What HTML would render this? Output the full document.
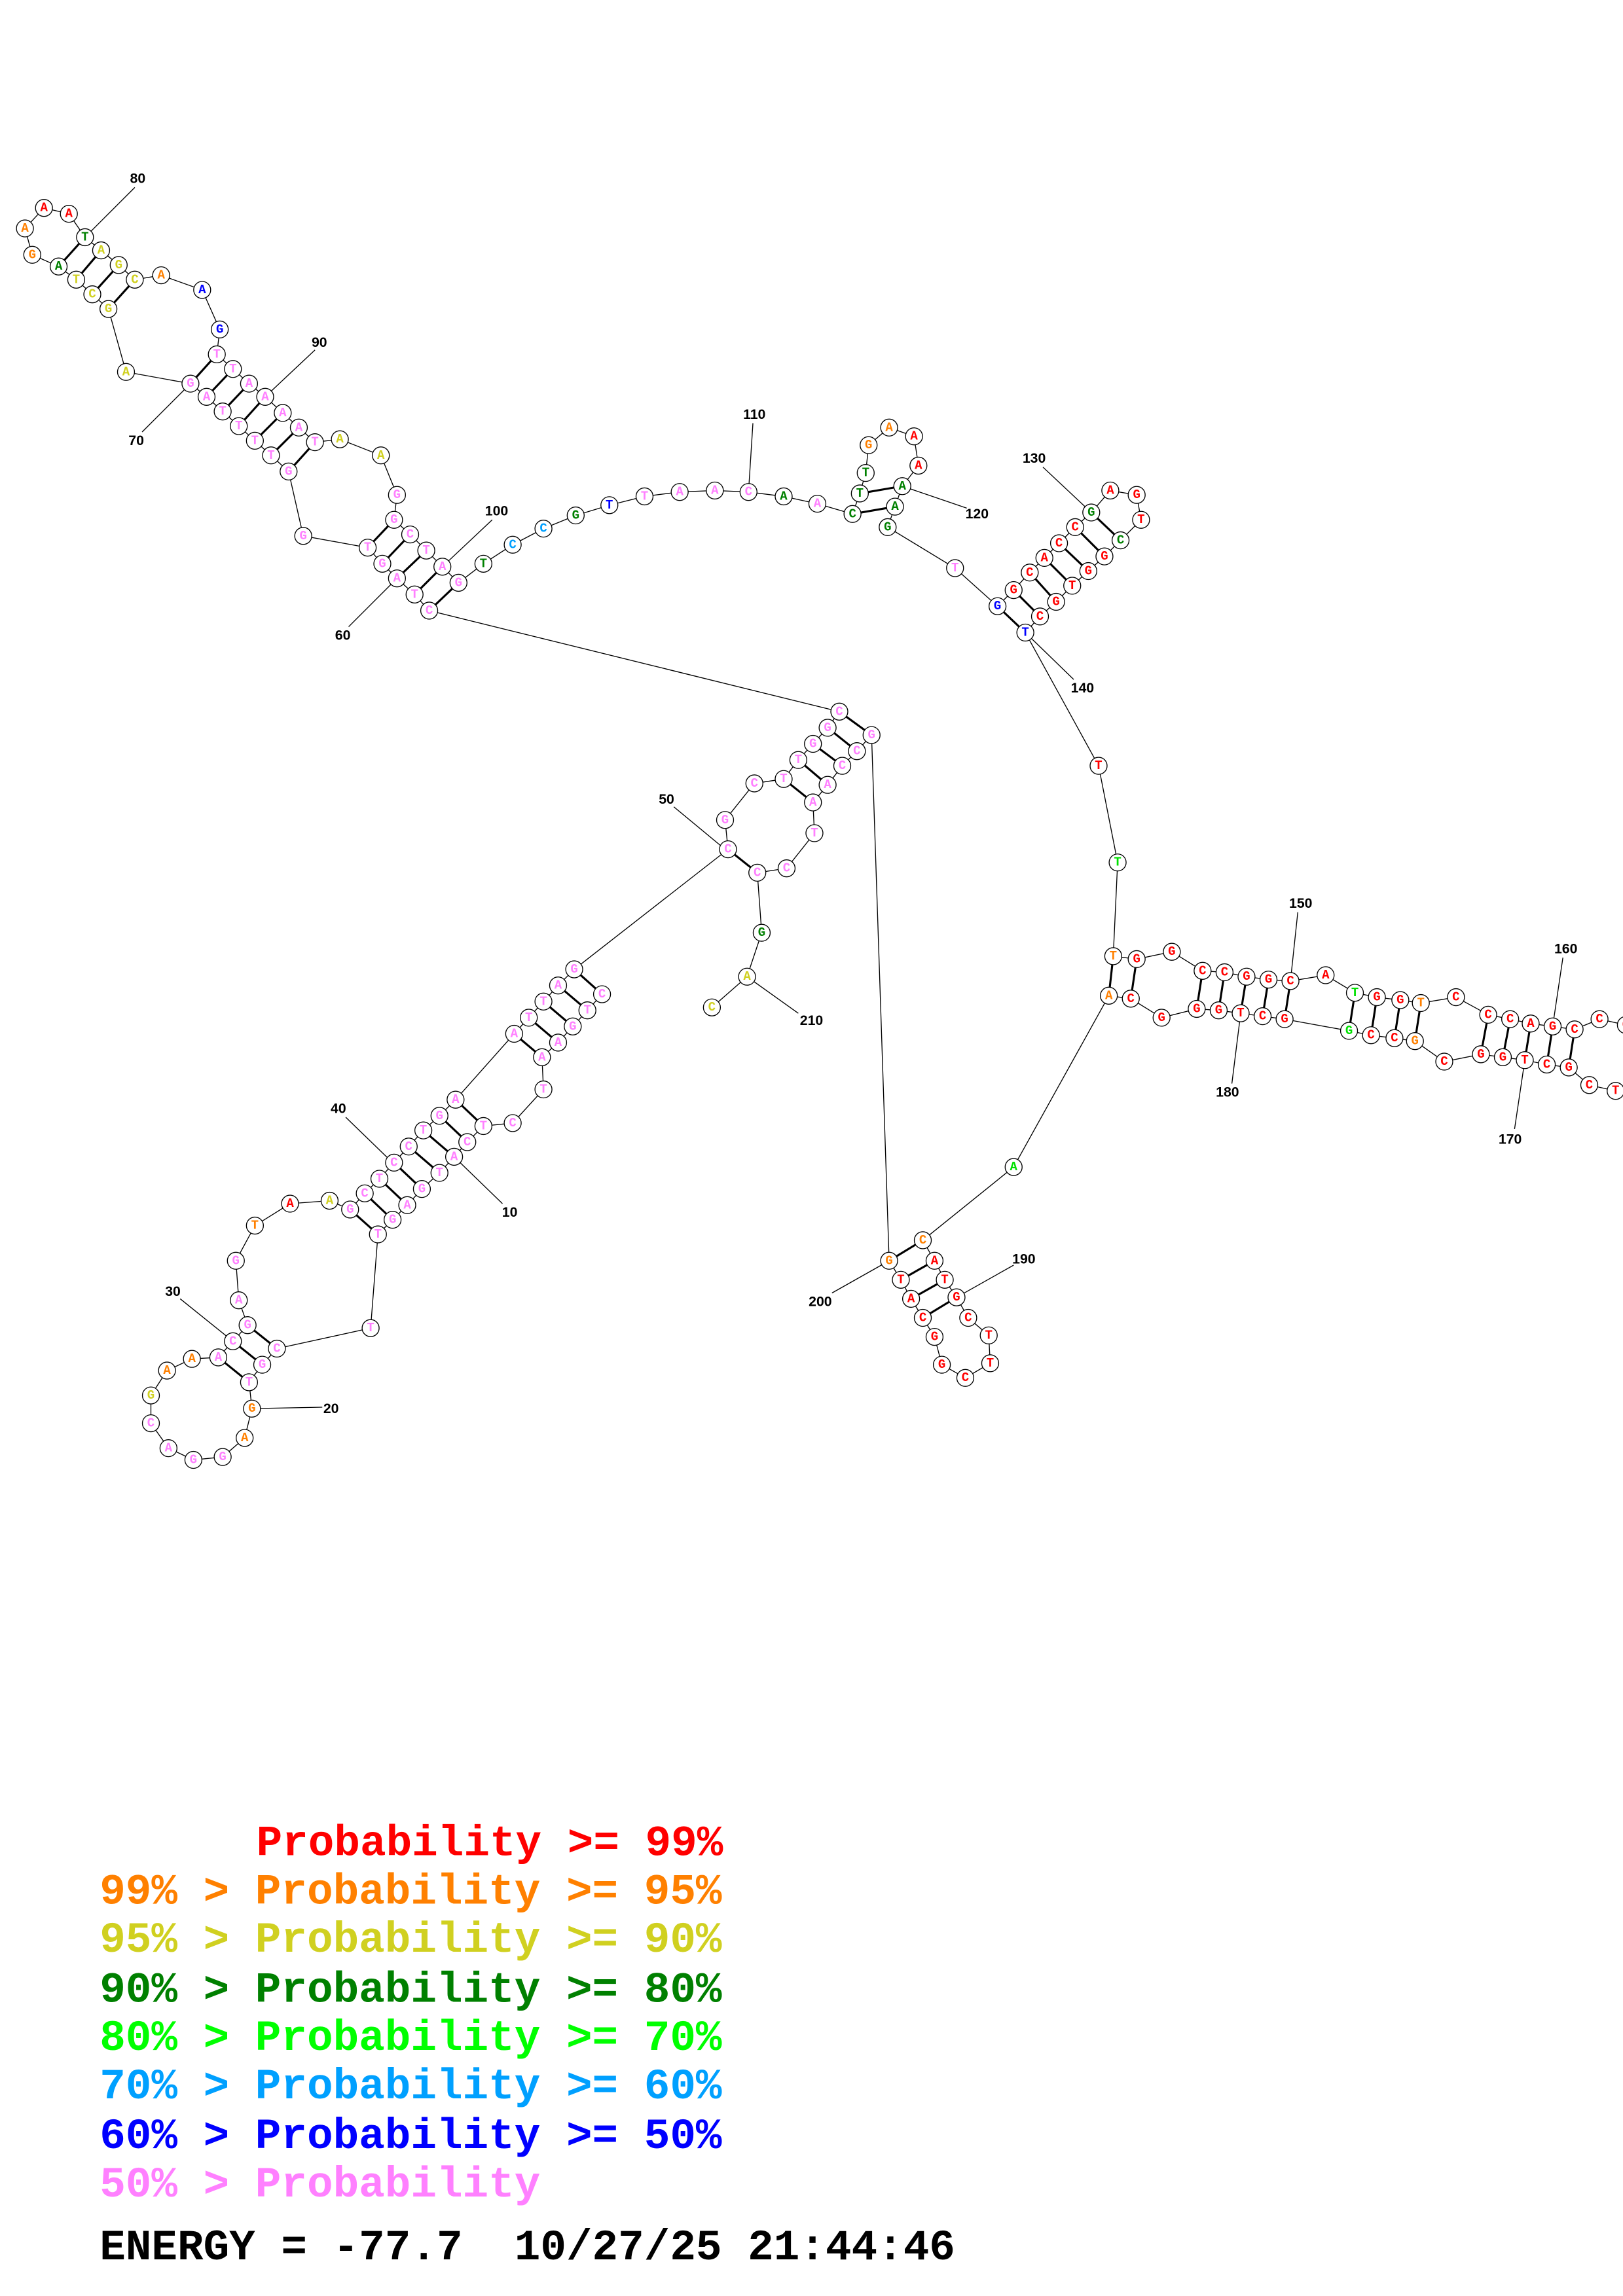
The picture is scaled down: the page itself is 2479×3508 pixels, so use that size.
<!DOCTYPE html>
<html><head><meta charset="utf-8"><style>
html,body{margin:0;padding:0;background:#fff}
svg{display:block}
.n circle{fill:#fff;stroke:#000;stroke-width:0.6}
.n text{font-family:"Liberation Mono",monospace;font-weight:bold;font-size:8.5px;text-anchor:middle;dominant-baseline:central}
.r{fill:#ff0000}.o{fill:#ff8000}.y{fill:#d0d020}.g{fill:#008000}.l{fill:#00e000}.c{fill:#00a0ff}.b{fill:#0000ff}.p{fill:#ff80ff}
.bb{fill:none;stroke:#000;stroke-width:0.6}
.pr{stroke:#000;stroke-width:1.4}
.lb{font-family:"Liberation Sans",sans-serif;font-weight:bold;font-size:9.5px;fill:#000;text-anchor:middle}
.lg{font-family:"Liberation Mono",monospace;font-weight:bold;font-size:29.5px}
</style></head><body>
<svg width="2479" height="3508" viewBox="0 0 1108 1568" xmlns="http://www.w3.org/2000/svg">
<g class="bb">
<polyline points="58,162 47,146 30,142 17,156 22,174 40,182 52,191 63,201 74,211 86,254 130,262 141,271 152,281 163,291 174,301 185,311 197,322 207,366 251,374 261,385 271,395 283,406 293,417 573,486"/>
<polyline points="58,162 69,171 81,181 92,191 110,188 138,198 150,225 148,242 159,252 170,262 181,271 193,282 204,292 215,302 232,300 260,311 271,338 269,355 280,365 291,376 302,387 313,398 330,385 350,372 371,361 393,352 416,345 440,339 464,336 488,335 511,336 535,339 558,344 582,351 587,337 591,323 593,304 607,292 624,298 627,318 616,332 611,346 606,360 652,388 681,414 692,403 703,391 713,381 723,371 734,360 745,350 758,335 776,338 779,355 765,369 754,380 743,390 732,400 721,411 710,421 700,432 750,523 763,589 760,653 776,655 800,650 821,663 836,664 851,667 866,669 881,670 905,666 925,678 940,681 956,683 970,685 994,681 1016,693 1031,696 1045,699 1060,701 1075,703 1092,696 1110,700"/>
<polyline points="1110,745 1103,745 1085,741 1071,729 1056,727 1041,724 1026,722 1011,720 986,725 966,711 952,709 936,707 921,704 877,696 862,694 847,692 832,690 817,689 793,695 772,682 757,680 692,797 630,847 638,861 645,874 653,886 661,900 675,912 676,931 659,941 643,932 638,913 630,900 622,887 615,874 607,861 595,502"/>
<polyline points="573,486 565,497 555,508 545,519 535,532 515,535 495,560 497,580 392,662"/>
<polyline points="595,502 585,513 575,523 565,536 555,548 556,569 537,593 517,596 497,580"/>
<polyline points="517,596 520,637 510,667 486,688"/>
<polyline points="392,662 381,673 371,684 361,695 351,706 311,751 300,762 289,772 279,783 269,794 259,805 249,815 239,826 225,820 198,822 174,837 161,861 163,888 169,905 159,916 149,927 131,928 114,936 103,953 103,972 115,989 132,997 152,995 167,982 172,962 170,944 179,932 189,921 253,907 258,843 268,833 278,823 288,812 300,801 310,790 319,780 330,769 350,767 371,744 370,722 381,712 391,701 401,690 411,679 392,662"/>
</g>
<g class="bb">
<line x1="58" y1="162" x2="92" y2="128"/><line x1="181" y1="271" x2="215" y2="239"/>
<line x1="130" y1="262" x2="97" y2="295"/><line x1="271" y1="395" x2="238" y2="428"/>
<line x1="302" y1="387" x2="336" y2="355"/><line x1="511" y1="336" x2="514" y2="289"/>
<line x1="616" y1="332" x2="660" y2="347"/><line x1="745" y1="350" x2="712" y2="319"/>
<line x1="700" y1="432" x2="733" y2="464"/><line x1="881" y1="670" x2="886" y2="623"/>
<line x1="1060" y1="701" x2="1067" y2="654"/><line x1="1041" y1="724" x2="1034" y2="771"/>
<line x1="847" y1="692" x2="841" y2="740"/><line x1="653" y1="886" x2="692" y2="864"/>
<line x1="607" y1="861" x2="568" y2="883"/><line x1="510" y1="667" x2="545" y2="692"/>
<line x1="495" y1="580" x2="460" y2="551"/><line x1="268" y1="794" x2="236" y2="763"/>
<line x1="310" y1="790" x2="343" y2="822"/><line x1="159" y1="916" x2="123" y2="887"/>
<line x1="172" y1="962" x2="220" y2="961"/>
</g>
<g class="pr">
<line x1="58" y1="162" x2="40" y2="182"/><line x1="69" y1="171" x2="52" y2="191"/><line x1="81" y1="181" x2="63" y2="201"/><line x1="92" y1="191" x2="74" y2="211"/>
<line x1="148" y1="242" x2="130" y2="262"/><line x1="159" y1="252" x2="141" y2="271"/><line x1="170" y1="262" x2="152" y2="281"/><line x1="181" y1="271" x2="163" y2="291"/><line x1="193" y1="282" x2="174" y2="301"/><line x1="204" y1="292" x2="185" y2="311"/><line x1="215" y1="302" x2="197" y2="322"/>
<line x1="269" y1="355" x2="251" y2="374"/><line x1="280" y1="365" x2="261" y2="385"/><line x1="291" y1="376" x2="271" y2="395"/><line x1="302" y1="387" x2="283" y2="406"/><line x1="313" y1="398" x2="293" y2="417"/>
<line x1="587" y1="337" x2="616" y2="332"/><line x1="582" y1="351" x2="611" y2="346"/>
<line x1="692" y1="403" x2="710" y2="421"/><line x1="703" y1="391" x2="721" y2="411"/><line x1="713" y1="381" x2="732" y2="400"/><line x1="723" y1="371" x2="743" y2="390"/><line x1="734" y1="360" x2="754" y2="380"/><line x1="745" y1="350" x2="765" y2="369"/><line x1="681" y1="414" x2="700" y2="432"/>
<line x1="760" y1="653" x2="757" y2="680"/><line x1="776" y1="655" x2="772" y2="682"/><line x1="821" y1="663" x2="817" y2="689"/><line x1="836" y1="664" x2="832" y2="690"/><line x1="851" y1="667" x2="847" y2="692"/><line x1="866" y1="669" x2="862" y2="694"/><line x1="881" y1="670" x2="877" y2="696"/>
<line x1="925" y1="678" x2="921" y2="704"/><line x1="940" y1="681" x2="936" y2="707"/><line x1="956" y1="683" x2="952" y2="709"/><line x1="970" y1="685" x2="966" y2="711"/>
<line x1="1016" y1="693" x2="1011" y2="720"/><line x1="1031" y1="696" x2="1026" y2="722"/><line x1="1045" y1="699" x2="1041" y2="724"/><line x1="1060" y1="701" x2="1056" y2="727"/><line x1="1075" y1="703" x2="1071" y2="729"/>
<line x1="630" y1="847" x2="607" y2="861"/><line x1="638" y1="861" x2="615" y2="874"/><line x1="645" y1="874" x2="622" y2="887"/><line x1="653" y1="886" x2="630" y2="900"/>
<line x1="573" y1="486" x2="595" y2="502"/><line x1="565" y1="497" x2="585" y2="513"/><line x1="555" y1="508" x2="575" y2="523"/><line x1="545" y1="519" x2="565" y2="536"/><line x1="535" y1="532" x2="555" y2="548"/><line x1="497" y1="580" x2="517" y2="596"/>
<line x1="392" y1="662" x2="411" y2="679"/><line x1="381" y1="673" x2="401" y2="690"/><line x1="371" y1="684" x2="391" y2="701"/><line x1="361" y1="695" x2="381" y2="712"/><line x1="351" y1="706" x2="370" y2="722"/>
<line x1="311" y1="751" x2="330" y2="769"/><line x1="300" y1="762" x2="319" y2="780"/><line x1="289" y1="772" x2="310" y2="790"/><line x1="279" y1="783" x2="300" y2="801"/><line x1="269" y1="794" x2="288" y2="812"/><line x1="259" y1="805" x2="278" y2="823"/><line x1="249" y1="815" x2="268" y2="833"/><line x1="239" y1="826" x2="258" y2="843"/>
<line x1="169" y1="905" x2="189" y2="921"/><line x1="159" y1="916" x2="179" y2="932"/><line x1="149" y1="927" x2="170" y2="944"/>
</g>
<g class="n">
<g transform="translate(17,156)"><circle r="5.8"/><text class="o">A</text></g>
<g transform="translate(30,142)"><circle r="5.8"/><text class="r">A</text></g>
<g transform="translate(47,146)"><circle r="5.8"/><text class="r">A</text></g>
<g transform="translate(58,162)"><circle r="5.8"/><text class="g">T</text></g>
<g transform="translate(22,174)"><circle r="5.8"/><text class="o">G</text></g>
<g transform="translate(40,182)"><circle r="5.8"/><text class="g">A</text></g>
<g transform="translate(52,191)"><circle r="5.8"/><text class="y">T</text></g>
<g transform="translate(63,201)"><circle r="5.8"/><text class="y">C</text></g>
<g transform="translate(74,211)"><circle r="5.8"/><text class="y">G</text></g>
<g transform="translate(69,171)"><circle r="5.8"/><text class="y">A</text></g>
<g transform="translate(81,181)"><circle r="5.8"/><text class="y">G</text></g>
<g transform="translate(92,191)"><circle r="5.8"/><text class="y">C</text></g>
<g transform="translate(110,188)"><circle r="5.8"/><text class="o">A</text></g>
<g transform="translate(138,198)"><circle r="5.8"/><text class="b">A</text></g>
<g transform="translate(150,225)"><circle r="5.8"/><text class="b">G</text></g>
<g transform="translate(86,254)"><circle r="5.8"/><text class="y">A</text></g>
<g transform="translate(148,242)"><circle r="5.8"/><text class="p">T</text></g>
<g transform="translate(159,252)"><circle r="5.8"/><text class="p">T</text></g>
<g transform="translate(170,262)"><circle r="5.8"/><text class="p">A</text></g>
<g transform="translate(181,271)"><circle r="5.8"/><text class="p">A</text></g>
<g transform="translate(193,282)"><circle r="5.8"/><text class="p">A</text></g>
<g transform="translate(204,292)"><circle r="5.8"/><text class="p">A</text></g>
<g transform="translate(215,302)"><circle r="5.8"/><text class="p">T</text></g>
<g transform="translate(130,262)"><circle r="5.8"/><text class="p">G</text></g>
<g transform="translate(141,271)"><circle r="5.8"/><text class="p">A</text></g>
<g transform="translate(152,281)"><circle r="5.8"/><text class="p">T</text></g>
<g transform="translate(163,291)"><circle r="5.8"/><text class="p">T</text></g>
<g transform="translate(174,301)"><circle r="5.8"/><text class="p">T</text></g>
<g transform="translate(185,311)"><circle r="5.8"/><text class="p">T</text></g>
<g transform="translate(197,322)"><circle r="5.8"/><text class="p">G</text></g>
<g transform="translate(232,300)"><circle r="5.8"/><text class="y">A</text></g>
<g transform="translate(260,311)"><circle r="5.8"/><text class="y">A</text></g>
<g transform="translate(271,338)"><circle r="5.8"/><text class="p">G</text></g>
<g transform="translate(269,355)"><circle r="5.8"/><text class="p">G</text></g>
<g transform="translate(280,365)"><circle r="5.8"/><text class="p">C</text></g>
<g transform="translate(291,376)"><circle r="5.8"/><text class="p">T</text></g>
<g transform="translate(302,387)"><circle r="5.8"/><text class="p">A</text></g>
<g transform="translate(313,398)"><circle r="5.8"/><text class="p">G</text></g>
<g transform="translate(207,366)"><circle r="5.8"/><text class="p">G</text></g>
<g transform="translate(251,374)"><circle r="5.8"/><text class="p">T</text></g>
<g transform="translate(261,385)"><circle r="5.8"/><text class="p">G</text></g>
<g transform="translate(271,395)"><circle r="5.8"/><text class="p">A</text></g>
<g transform="translate(283,406)"><circle r="5.8"/><text class="p">T</text></g>
<g transform="translate(293,417)"><circle r="5.8"/><text class="p">C</text></g>
<g transform="translate(330,385)"><circle r="5.8"/><text class="g">T</text></g>
<g transform="translate(350,372)"><circle r="5.8"/><text class="c">C</text></g>
<g transform="translate(371,361)"><circle r="5.8"/><text class="c">C</text></g>
<g transform="translate(393,352)"><circle r="5.8"/><text class="g">G</text></g>
<g transform="translate(416,345)"><circle r="5.8"/><text class="b">T</text></g>
<g transform="translate(440,339)"><circle r="5.8"/><text class="p">T</text></g>
<g transform="translate(464,336)"><circle r="5.8"/><text class="p">A</text></g>
<g transform="translate(488,335)"><circle r="5.8"/><text class="p">A</text></g>
<g transform="translate(511,336)"><circle r="5.8"/><text class="p">C</text></g>
<g transform="translate(535,339)"><circle r="5.8"/><text class="g">A</text></g>
<g transform="translate(558,344)"><circle r="5.8"/><text class="p">A</text></g>
<g transform="translate(582,351)"><circle r="5.8"/><text class="g">C</text></g>
<g transform="translate(587,337)"><circle r="5.8"/><text class="g">T</text></g>
<g transform="translate(591,323)"><circle r="5.8"/><text class="g">T</text></g>
<g transform="translate(593,304)"><circle r="5.8"/><text class="o">G</text></g>
<g transform="translate(607,292)"><circle r="5.8"/><text class="o">A</text></g>
<g transform="translate(624,298)"><circle r="5.8"/><text class="r">A</text></g>
<g transform="translate(627,318)"><circle r="5.8"/><text class="r">A</text></g>
<g transform="translate(616,332)"><circle r="5.8"/><text class="g">A</text></g>
<g transform="translate(611,346)"><circle r="5.8"/><text class="g">A</text></g>
<g transform="translate(606,360)"><circle r="5.8"/><text class="g">G</text></g>
<g transform="translate(652,388)"><circle r="5.8"/><text class="p">T</text></g>
<g transform="translate(681,414)"><circle r="5.8"/><text class="b">G</text></g>
<g transform="translate(700,432)"><circle r="5.8"/><text class="b">T</text></g>
<g transform="translate(692,403)"><circle r="5.8"/><text class="r">G</text></g>
<g transform="translate(703,391)"><circle r="5.8"/><text class="r">C</text></g>
<g transform="translate(713,381)"><circle r="5.8"/><text class="r">A</text></g>
<g transform="translate(723,371)"><circle r="5.8"/><text class="r">C</text></g>
<g transform="translate(734,360)"><circle r="5.8"/><text class="r">C</text></g>
<g transform="translate(745,350)"><circle r="5.8"/><text class="g">G</text></g>
<g transform="translate(758,335)"><circle r="5.8"/><text class="r">A</text></g>
<g transform="translate(776,338)"><circle r="5.8"/><text class="r">G</text></g>
<g transform="translate(779,355)"><circle r="5.8"/><text class="r">T</text></g>
<g transform="translate(765,369)"><circle r="5.8"/><text class="g">C</text></g>
<g transform="translate(754,380)"><circle r="5.8"/><text class="r">G</text></g>
<g transform="translate(743,390)"><circle r="5.8"/><text class="r">G</text></g>
<g transform="translate(732,400)"><circle r="5.8"/><text class="r">T</text></g>
<g transform="translate(721,411)"><circle r="5.8"/><text class="r">G</text></g>
<g transform="translate(710,421)"><circle r="5.8"/><text class="r">C</text></g>
<g transform="translate(750,523)"><circle r="5.8"/><text class="r">T</text></g>
<g transform="translate(763,589)"><circle r="5.8"/><text class="l">T</text></g>
<g transform="translate(760,653)"><circle r="5.8"/><text class="o">T</text></g>
<g transform="translate(757,680)"><circle r="5.8"/><text class="o">A</text></g>
<g transform="translate(776,655)"><circle r="5.8"/><text class="r">G</text></g>
<g transform="translate(772,682)"><circle r="5.8"/><text class="r">C</text></g>
<g transform="translate(800,650)"><circle r="5.8"/><text class="r">G</text></g>
<g transform="translate(793,695)"><circle r="5.8"/><text class="r">G</text></g>
<g transform="translate(821,663)"><circle r="5.8"/><text class="r">C</text></g>
<g transform="translate(817,689)"><circle r="5.8"/><text class="r">G</text></g>
<g transform="translate(836,664)"><circle r="5.8"/><text class="r">C</text></g>
<g transform="translate(832,690)"><circle r="5.8"/><text class="r">G</text></g>
<g transform="translate(851,667)"><circle r="5.8"/><text class="r">G</text></g>
<g transform="translate(847,692)"><circle r="5.8"/><text class="r">T</text></g>
<g transform="translate(866,669)"><circle r="5.8"/><text class="r">G</text></g>
<g transform="translate(862,694)"><circle r="5.8"/><text class="r">C</text></g>
<g transform="translate(881,670)"><circle r="5.8"/><text class="r">C</text></g>
<g transform="translate(877,696)"><circle r="5.8"/><text class="r">G</text></g>
<g transform="translate(905,666)"><circle r="5.8"/><text class="r">A</text></g>
<g transform="translate(925,678)"><circle r="5.8"/><text class="l">T</text></g>
<g transform="translate(921,704)"><circle r="5.8"/><text class="l">G</text></g>
<g transform="translate(940,681)"><circle r="5.8"/><text class="r">G</text></g>
<g transform="translate(936,707)"><circle r="5.8"/><text class="r">C</text></g>
<g transform="translate(956,683)"><circle r="5.8"/><text class="r">G</text></g>
<g transform="translate(952,709)"><circle r="5.8"/><text class="r">C</text></g>
<g transform="translate(970,685)"><circle r="5.8"/><text class="o">T</text></g>
<g transform="translate(966,711)"><circle r="5.8"/><text class="o">G</text></g>
<g transform="translate(994,681)"><circle r="5.8"/><text class="r">C</text></g>
<g transform="translate(986,725)"><circle r="5.8"/><text class="r">C</text></g>
<g transform="translate(1016,693)"><circle r="5.8"/><text class="r">C</text></g>
<g transform="translate(1011,720)"><circle r="5.8"/><text class="r">G</text></g>
<g transform="translate(1031,696)"><circle r="5.8"/><text class="r">C</text></g>
<g transform="translate(1026,722)"><circle r="5.8"/><text class="r">G</text></g>
<g transform="translate(1045,699)"><circle r="5.8"/><text class="r">A</text></g>
<g transform="translate(1041,724)"><circle r="5.8"/><text class="r">T</text></g>
<g transform="translate(1060,701)"><circle r="5.8"/><text class="r">G</text></g>
<g transform="translate(1056,727)"><circle r="5.8"/><text class="r">C</text></g>
<g transform="translate(1075,703)"><circle r="5.8"/><text class="r">C</text></g>
<g transform="translate(1071,729)"><circle r="5.8"/><text class="r">G</text></g>
<g transform="translate(1092,696)"><circle r="5.8"/><text class="r">C</text></g>
<g transform="translate(1085,741)"><circle r="5.8"/><text class="r">C</text></g>
<g transform="translate(1103,745)"><circle r="5.8"/><text class="r">T</text></g>
<g transform="translate(1110,700)"><circle r="5.8"/><text class="r">C</text></g>
<g transform="translate(692,797)"><circle r="5.8"/><text class="l">A</text></g>
<g transform="translate(630,847)"><circle r="5.8"/><text class="o">C</text></g>
<g transform="translate(607,861)"><circle r="5.8"/><text class="o">G</text></g>
<g transform="translate(638,861)"><circle r="5.8"/><text class="r">A</text></g>
<g transform="translate(615,874)"><circle r="5.8"/><text class="r">T</text></g>
<g transform="translate(645,874)"><circle r="5.8"/><text class="r">T</text></g>
<g transform="translate(622,887)"><circle r="5.8"/><text class="r">A</text></g>
<g transform="translate(653,886)"><circle r="5.8"/><text class="r">G</text></g>
<g transform="translate(630,900)"><circle r="5.8"/><text class="r">C</text></g>
<g transform="translate(661,900)"><circle r="5.8"/><text class="r">C</text></g>
<g transform="translate(638,913)"><circle r="5.8"/><text class="r">G</text></g>
<g transform="translate(675,912)"><circle r="5.8"/><text class="r">T</text></g>
<g transform="translate(676,931)"><circle r="5.8"/><text class="r">T</text></g>
<g transform="translate(659,941)"><circle r="5.8"/><text class="r">C</text></g>
<g transform="translate(643,932)"><circle r="5.8"/><text class="r">G</text></g>
<g transform="translate(573,486)"><circle r="5.8"/><text class="p">C</text></g>
<g transform="translate(595,502)"><circle r="5.8"/><text class="p">G</text></g>
<g transform="translate(565,497)"><circle r="5.8"/><text class="p">G</text></g>
<g transform="translate(585,513)"><circle r="5.8"/><text class="p">C</text></g>
<g transform="translate(555,508)"><circle r="5.8"/><text class="p">G</text></g>
<g transform="translate(575,523)"><circle r="5.8"/><text class="p">C</text></g>
<g transform="translate(545,519)"><circle r="5.8"/><text class="p">T</text></g>
<g transform="translate(565,536)"><circle r="5.8"/><text class="p">A</text></g>
<g transform="translate(535,532)"><circle r="5.8"/><text class="p">T</text></g>
<g transform="translate(555,548)"><circle r="5.8"/><text class="p">A</text></g>
<g transform="translate(515,535)"><circle r="5.8"/><text class="p">C</text></g>
<g transform="translate(556,569)"><circle r="5.8"/><text class="p">T</text></g>
<g transform="translate(537,593)"><circle r="5.8"/><text class="p">C</text></g>
<g transform="translate(517,596)"><circle r="5.8"/><text class="p">C</text></g>
<g transform="translate(495,560)"><circle r="5.8"/><text class="p">G</text></g>
<g transform="translate(497,580)"><circle r="5.8"/><text class="p">C</text></g>
<g transform="translate(520,637)"><circle r="5.8"/><text class="g">G</text></g>
<g transform="translate(510,667)"><circle r="5.8"/><text class="y">A</text></g>
<g transform="translate(486,688)"><circle r="5.8"/><text class="y">C</text></g>
<g transform="translate(392,662)"><circle r="5.8"/><text class="p">G</text></g>
<g transform="translate(411,679)"><circle r="5.8"/><text class="p">C</text></g>
<g transform="translate(381,673)"><circle r="5.8"/><text class="p">A</text></g>
<g transform="translate(401,690)"><circle r="5.8"/><text class="p">T</text></g>
<g transform="translate(371,684)"><circle r="5.8"/><text class="p">T</text></g>
<g transform="translate(391,701)"><circle r="5.8"/><text class="p">G</text></g>
<g transform="translate(361,695)"><circle r="5.8"/><text class="p">T</text></g>
<g transform="translate(381,712)"><circle r="5.8"/><text class="p">A</text></g>
<g transform="translate(351,706)"><circle r="5.8"/><text class="p">A</text></g>
<g transform="translate(370,722)"><circle r="5.8"/><text class="p">A</text></g>
<g transform="translate(371,744)"><circle r="5.8"/><text class="p">T</text></g>
<g transform="translate(350,767)"><circle r="5.8"/><text class="p">C</text></g>
<g transform="translate(311,751)"><circle r="5.8"/><text class="p">A</text></g>
<g transform="translate(330,769)"><circle r="5.8"/><text class="p">T</text></g>
<g transform="translate(300,762)"><circle r="5.8"/><text class="p">G</text></g>
<g transform="translate(319,780)"><circle r="5.8"/><text class="p">C</text></g>
<g transform="translate(289,772)"><circle r="5.8"/><text class="p">T</text></g>
<g transform="translate(310,790)"><circle r="5.8"/><text class="p">A</text></g>
<g transform="translate(279,783)"><circle r="5.8"/><text class="p">C</text></g>
<g transform="translate(300,801)"><circle r="5.8"/><text class="p">T</text></g>
<g transform="translate(269,794)"><circle r="5.8"/><text class="p">C</text></g>
<g transform="translate(288,812)"><circle r="5.8"/><text class="p">G</text></g>
<g transform="translate(259,805)"><circle r="5.8"/><text class="p">T</text></g>
<g transform="translate(278,823)"><circle r="5.8"/><text class="p">A</text></g>
<g transform="translate(249,815)"><circle r="5.8"/><text class="p">C</text></g>
<g transform="translate(268,833)"><circle r="5.8"/><text class="p">G</text></g>
<g transform="translate(239,826)"><circle r="5.8"/><text class="p">G</text></g>
<g transform="translate(258,843)"><circle r="5.8"/><text class="p">T</text></g>
<g transform="translate(225,820)"><circle r="5.8"/><text class="y">A</text></g>
<g transform="translate(198,822)"><circle r="5.8"/><text class="r">A</text></g>
<g transform="translate(174,837)"><circle r="5.8"/><text class="o">T</text></g>
<g transform="translate(161,861)"><circle r="5.8"/><text class="p">G</text></g>
<g transform="translate(163,888)"><circle r="5.8"/><text class="p">A</text></g>
<g transform="translate(169,905)"><circle r="5.8"/><text class="p">G</text></g>
<g transform="translate(159,916)"><circle r="5.8"/><text class="p">C</text></g>
<g transform="translate(149,927)"><circle r="5.8"/><text class="p">A</text></g>
<g transform="translate(189,921)"><circle r="5.8"/><text class="p">C</text></g>
<g transform="translate(179,932)"><circle r="5.8"/><text class="p">G</text></g>
<g transform="translate(170,944)"><circle r="5.8"/><text class="p">T</text></g>
<g transform="translate(172,962)"><circle r="5.8"/><text class="o">G</text></g>
<g transform="translate(167,982)"><circle r="5.8"/><text class="o">A</text></g>
<g transform="translate(152,995)"><circle r="5.8"/><text class="p">G</text></g>
<g transform="translate(132,997)"><circle r="5.8"/><text class="p">G</text></g>
<g transform="translate(115,989)"><circle r="5.8"/><text class="p">A</text></g>
<g transform="translate(103,972)"><circle r="5.8"/><text class="p">C</text></g>
<g transform="translate(103,953)"><circle r="5.8"/><text class="y">G</text></g>
<g transform="translate(114,936)"><circle r="5.8"/><text class="o">A</text></g>
<g transform="translate(131,928)"><circle r="5.8"/><text class="o">A</text></g>
<g transform="translate(253,907)"><circle r="5.8"/><text class="p">T</text></g>
</g>
<text class="lb" x="94" y="125">80</text><text class="lb" x="218" y="237">90</text>
<text class="lb" x="93" y="304">70</text><text class="lb" x="234" y="437">60</text>
<text class="lb" x="339" y="352">100</text><text class="lb" x="515" y="286">110</text>
<text class="lb" x="667" y="354">120</text><text class="lb" x="706" y="316">130</text>
<text class="lb" x="739" y="473">140</text><text class="lb" x="888" y="620">150</text>
<text class="lb" x="1069" y="651">160</text><text class="lb" x="1031" y="781">170</text>
<text class="lb" x="838" y="749">180</text><text class="lb" x="699" y="863">190</text>
<text class="lb" x="560" y="892">200</text><text class="lb" x="554" y="700">210</text>
<text class="lb" x="455" y="549">50</text><text class="lb" x="231" y="760">40</text>
<text class="lb" x="348" y="831">10</text><text class="lb" x="118" y="885">30</text>
<text class="lb" x="226" y="965">20</text>
<g class="lg">
<text x="175" y="1267" fill="#ff0000">Probability &gt;= 99%</text>
<text x="68" y="1300" fill="#ff8000">99% &gt; Probability &gt;= 95%</text>
<text x="68" y="1333" fill="#d0d020">95% &gt; Probability &gt;= 90%</text>
<text x="68" y="1367" fill="#008000">90% &gt; Probability &gt;= 80%</text>
<text x="68" y="1400" fill="#00ff00">80% &gt; Probability &gt;= 70%</text>
<text x="68" y="1433" fill="#00a0ff">70% &gt; Probability &gt;= 60%</text>
<text x="68" y="1467" fill="#0000ff">60% &gt; Probability &gt;= 50%</text>
<text x="68" y="1500" fill="#ff80ff">50% &gt; Probability</text>
<text x="68" y="1543" fill="#000" xml:space="preserve">ENERGY = -77.7  10/27/25 21:44:46</text>
</g>
</svg>
</body></html>
